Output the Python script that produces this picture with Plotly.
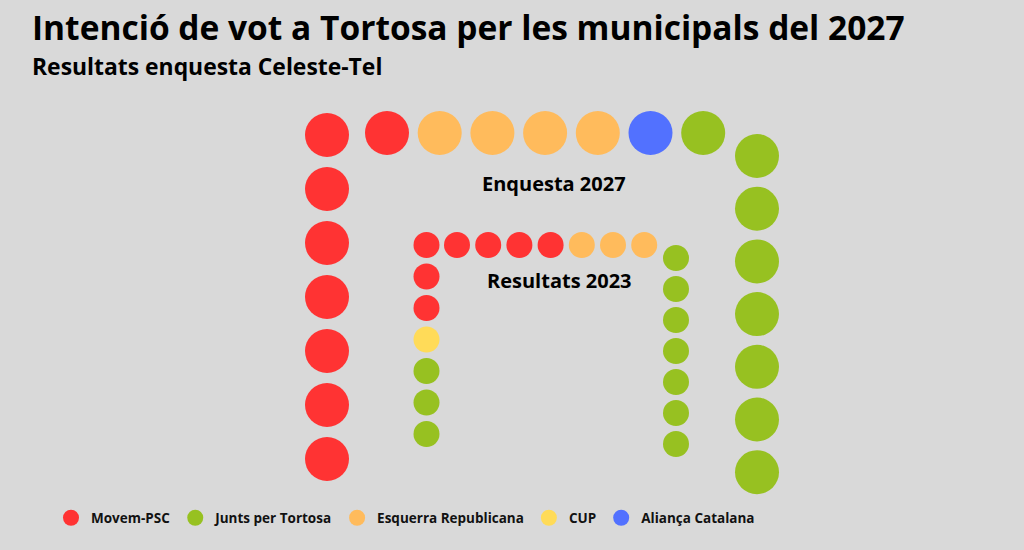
import plotly.graph_objects as go

# ---------------- data ----------------
parties = ["Movem-PSC", "Junts per Tortosa", "Esquerra Republicana", "CUP", "Aliança Catalana"]
party_colors = ["#FF3333", "#97C121", "#FFBB5C", "#FFDB58", "#5271FF"]

# seat order along the U (left side bottom->top, top side left->right, right side top->bottom)
order_2027 = ["Movem-PSC", "Esquerra Republicana", "Aliança Catalana", "Junts per Tortosa"]
seats_2027 = [8, 4, 1, 8]
order_2023 = ["Junts per Tortosa", "CUP", "Movem-PSC", "Esquerra Republicana", "Junts per Tortosa"]
seats_2023 = [3, 1, 7, 3, 7]

chamber_labels = ["Enquesta 2027", "Resultats 2023"]
title_text = "Intenció de vot a Tortosa per les municipals del 2027"
subtitle_text = "Resultats enquesta Celeste-Tel"

# ---------------- geometry (layout, pixel-like units) ----------------
W, H = 1024, 550
FONT = "Open Sans"
BG = "#D9D9D9"

geom_2027 = dict(left_x=327, bottom_y=459, left_step=54, top_y=133, top_x0=387, top_step=52.7,
                 right_x=757, right_y0=156, right_step=52.7, size=44)
geom_2023 = dict(left_x=426.5, bottom_y=434, left_step=31.5, top_y=245, top_x0=457, top_step=31.2,
                 right_x=676, right_y0=258, right_step=31, size=26)


def u_positions(n, g):
    side = n // 3
    pts = []
    for i in range(side):
        pts.append((g["left_x"], g["bottom_y"] - i * g["left_step"]))
    for i in range(side):
        pts.append((g["top_x0"] + i * g["top_step"], g["top_y"]))
    for i in range(n - 2 * side):
        pts.append((g["right_x"], g["right_y0"] + i * g["right_step"]))
    return pts


def expand(order, seats):
    out = []
    for p, s in zip(order, seats):
        out += [p] * s
    return out


seat_party = {}
for order, seats, g in [(order_2027, seats_2027, geom_2027), (order_2023, seats_2023, geom_2023)]:
    seq = expand(order, seats)
    pos = u_positions(len(seq), g)
    for p, (x, y) in zip(seq, pos):
        seat_party.setdefault(p, []).append((x, y, g["size"]))

fig = go.Figure()
for p, c in zip(parties, party_colors):
    pts = seat_party.get(p, [])
    fig.add_trace(go.Scatter(
        x=[q[0] for q in pts], y=[q[1] for q in pts], mode="markers", name=p,
        marker=dict(color=c, size=[q[2] for q in pts], line=dict(width=0), opacity=1),
        hovertemplate=p + "<extra></extra>",
    ))

annotations = [
    dict(text="<span style='font-size:33.5px'>" + title_text + "</span><br>"
              "<span style='font-size:22.9px'>" + subtitle_text + "</span>",
         x=30, y=1.5, xanchor="left", yanchor="top", align="left", showarrow=False,
         font=dict(family=FONT, size=27, color="#000", weight="bold")),
    dict(text=chamber_labels[0], x=554, y=183, xanchor="center", yanchor="middle", showarrow=False,
         font=dict(family=FONT, size=20, color="#000", weight="bold")),
    dict(text=chamber_labels[1], x=559, y=280, xanchor="center", yanchor="middle", showarrow=False,
         font=dict(family=FONT, size=20, color="#000", weight="bold")),
]

fig.update_layout(
    width=W, height=H,
    margin=dict(l=0, r=0, t=0, b=0),
    paper_bgcolor=BG, plot_bgcolor=BG,
    xaxis=dict(range=[0, W], visible=False, fixedrange=True),
    yaxis=dict(range=[H, 0], visible=False, fixedrange=True),
    annotations=annotations,
    showlegend=True,
    legend=dict(orientation="h", x=51 / W, xanchor="left", y=1 - 518 / H, yanchor="middle",
                font=dict(family=FONT, size=13.5, color="#111", weight="bold"),
                bgcolor="rgba(0,0,0,0)", itemsizing="trace"),
    font=dict(family=FONT),
)

fig.write_html(
    "out.html",
    config={"displayModeBar": False},
    post_script="document.body.style.margin='0';document.body.style.background='" + BG + "';"
                "document.body.style.overflow='hidden';",
)
